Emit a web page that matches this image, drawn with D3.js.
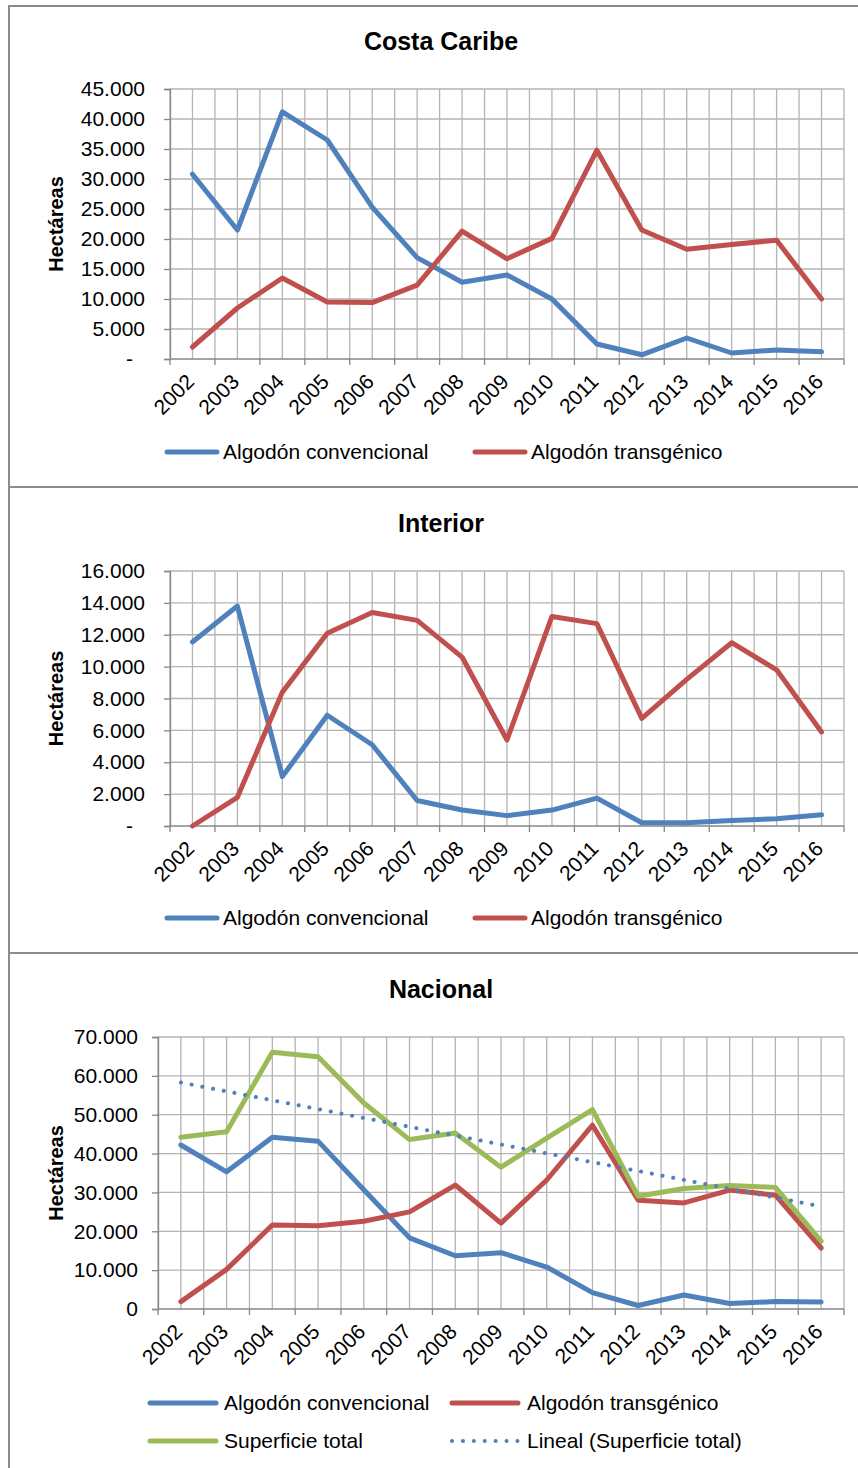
<!DOCTYPE html>
<html>
<head>
<meta charset="utf-8">
<script src="https://cdn.jsdelivr.net/npm/d3@7"></script>
<style>
  html, body { margin: 0; padding: 0; background: #fff; }
  svg { display: block; font-family: "Liberation Sans", Arial, sans-serif; }
</style>
</head>
<body>
<svg id="chart" width="858" height="1468"></svg>
<script>
// Cotton area (hectares) by year and region
const years = ["2002","2003","2004","2005","2006","2007","2008","2009","2010","2011","2012","2013","2014","2015","2016"];

const caribeConvencional = [30800, 21500, 41200, 36500, 25300, 16900, 12800, 14000, 10000, 2500, 700, 3500, 1000, 1500, 1200];
const caribeTransgenico  = [2000, 8500, 13500, 9500, 9400, 12300, 21300, 16700, 20100, 34800, 21500, 18300, 19100, 19800, 10000];

const interiorConvencional = [11550, 13800, 3100, 6950, 5100, 1600, 1000, 650, 1000, 1750, 200, 200, 350, 450, 700];
const interiorTransgenico  = [0, 1800, 8400, 12100, 13400, 12900, 10600, 5400, 13150, 12700, 6750, 9200, 11500, 9800, 5900];

const nacionalConvencional = [42200, 35300, 44200, 43200, 30700, 18300, 13700, 14500, 10800, 4200, 900, 3600, 1400, 1900, 1800];
const nacionalTransgenico  = [1900, 10200, 21600, 21400, 22600, 25000, 31900, 22100, 33200, 47300, 28000, 27300, 30600, 29300, 15700];
const nacionalTotal        = [44200, 45600, 66100, 64900, 53000, 43600, 45300, 36500, 44000, 51300, 29000, 31000, 31800, 31300, 17500];

const ticksCaribe   = [0, 5000, 10000, 15000, 20000, 25000, 30000, 35000, 40000, 45000];
const labelsCaribe  = ["-", "5.000", "10.000", "15.000", "20.000", "25.000", "30.000", "35.000", "40.000", "45.000"];
const ticksInterior  = [0, 2000, 4000, 6000, 8000, 10000, 12000, 14000, 16000];
const labelsInterior = ["-", "2.000", "4.000", "6.000", "8.000", "10.000", "12.000", "14.000", "16.000"];
const ticksNacional  = [0, 10000, 20000, 30000, 40000, 50000, 60000, 70000];
const labelsNacional = ["0", "10.000", "20.000", "30.000", "40.000", "50.000", "60.000", "70.000"];

const COLORS = { conv: "#4F81BD", trans: "#C0504D", total: "#9BBB59", trend: "#4F81BD" };
const FONT = 21;

const svg = d3.select("#chart");

// Ordinary least-squares line through a series (Excel "Lineal" trendline)
function linearFit(values) {
  const n = values.length;
  const xs = d3.range(1, n + 1);
  const mx = d3.mean(xs), my = d3.mean(values);
  let sxy = 0, sxx = 0;
  xs.forEach((x, i) => { sxy += (x - mx) * (values[i] - my); sxx += (x - mx) * (x - mx); });
  const b = sxy / sxx, a = my - b * mx;
  return xs.map(x => a + b * x);
}

function drawPanel(cfg) {
  const g = svg.append("g");

  // panel frame
  g.append("rect")
    .attr("x", cfg.frame[0]).attr("y", cfg.frame[1])
    .attr("width", cfg.frame[2]).attr("height", cfg.frame[3])
    .attr("fill", "#fff").attr("stroke", "#8c8c8c").attr("stroke-width", 2);

  // title
  g.append("text")
    .attr("x", 441).attr("y", cfg.titleY)
    .attr("text-anchor", "middle")
    .attr("font-size", 25).attr("font-weight", "bold")
    .text(cfg.title);

  const x = d3.scaleBand().domain(years).range([cfg.left, cfg.right]).padding(0);
  const y = d3.scaleLinear().domain([0, cfg.ticks[cfg.ticks.length - 1]]).range([cfg.bottom, cfg.top]);
  const half = x.bandwidth() / 2;

  // vertical gridlines at category edges and centers
  const grid = g.append("g").attr("stroke", "#b4b4b4").attr("stroke-width", 1.3);
  const vx = [];
  years.forEach(yr => { vx.push(x(yr)); vx.push(x(yr) + half); });
  vx.push(cfg.right);
  grid.selectAll("line.v").data(vx).join("line")
    .attr("x1", d => d).attr("x2", d => d)
    .attr("y1", cfg.top).attr("y2", cfg.bottom);

  // horizontal gridlines
  grid.selectAll("line.h").data(cfg.ticks.slice(1)).join("line")
    .attr("x1", cfg.left).attr("x2", cfg.right)
    .attr("y1", d => y(d)).attr("y2", d => y(d));

  // y axis
  const labelOf = new Map(cfg.ticks.map((t, i) => [t, cfg.labels[i]]));
  const yAxis = g.append("g")
    .attr("transform", `translate(${cfg.left},0)`)
    .call(d3.axisLeft(y).tickValues(cfg.ticks).tickFormat(d => labelOf.get(d)).tickSize(6).tickPadding(cfg.labelPad));
  yAxis.select(".domain").attr("stroke", "#868686").attr("stroke-width", 1.3);
  yAxis.selectAll(".tick line").attr("stroke", "#868686").attr("stroke-width", 1.3);
  yAxis.selectAll(".tick text")
    .attr("font-size", FONT).attr("fill", "#000")
    .attr("font-family", "\"Liberation Sans\", Arial, sans-serif")
    .attr("dx", d => labelOf.get(d) === "-" ? -12 : 0);

  // x axis: ticks at category edges, labels rotated
  const xAxis = g.append("g").attr("transform", `translate(0,${cfg.bottom})`);
  xAxis.append("line")
    .attr("x1", cfg.left).attr("x2", cfg.right)
    .attr("stroke", "#868686").attr("stroke-width", 1.3);
  xAxis.selectAll("line.t").data(vx.filter((d, i) => i % 2 === 0 || i === vx.length - 1)).join("line")
    .attr("x1", d => d).attr("x2", d => d).attr("y1", 0).attr("y2", 6)
    .attr("stroke", "#868686").attr("stroke-width", 1.3);
  xAxis.selectAll("text").data(years).join("text")
    .attr("transform", d => `translate(${x(d) + half + 3},24) rotate(-45)`)
    .attr("text-anchor", "end")
    .attr("font-size", FONT)
    .text(d => d);

  // axis title
  g.append("text")
    .attr("transform", `translate(63,${(cfg.top + cfg.bottom) / 2}) rotate(-90)`)
    .attr("text-anchor", "middle")
    .attr("font-size", 20).attr("font-weight", "bold")
    .text("Hectáreas");

  // series lines
  const line = d3.line().x((d, i) => x(years[i]) + half).y(d => y(d));
  cfg.series.forEach(s => {
    g.append("path")
      .datum(s.values)
      .attr("d", line)
      .attr("fill", "none")
      .attr("stroke", s.color)
      .attr("stroke-width", s.dotted ? 4 : 5)
      .attr("stroke-linejoin", "round")
      .attr("stroke-linecap", "round")
      .attr("stroke-dasharray", s.dotted ? "0.1 10.8" : null);
  });

  // legend
  cfg.legend.forEach(item => {
    const s = cfg.series[item.idx];
    g.append("line")
      .attr("x1", item.x1).attr("x2", item.x2)
      .attr("y1", item.y).attr("y2", item.y)
      .attr("stroke", s.color)
      .attr("stroke-width", s.dotted ? 4 : 5)
      .attr("stroke-linecap", "round")
      .attr("stroke-dasharray", s.dotted ? "0.1 10.8" : null);
    g.append("text")
      .attr("x", item.tx).attr("y", item.y)
      .attr("dy", "0.35em")
      .attr("font-size", FONT)
      .text(s.name);
  });
}

drawPanel({
  title: "Costa Caribe", titleY: 50,
  frame: [9, 6, 870, 481],
  left: 170, right: 844, top: 89, bottom: 359, labelPad: 19,
  ticks: ticksCaribe, labels: labelsCaribe,
  series: [
    { name: "Algodón convencional", values: caribeConvencional, color: COLORS.conv },
    { name: "Algodón transgénico", values: caribeTransgenico, color: COLORS.trans }
  ],
  legend: [
    { idx: 0, x1: 167, x2: 217, y: 452, tx: 223 },
    { idx: 1, x1: 475, x2: 525, y: 452, tx: 531 }
  ]
});

drawPanel({
  title: "Interior", titleY: 532,
  frame: [9, 487, 870, 466],
  left: 170, right: 844, top: 571, bottom: 826, labelPad: 19,
  ticks: ticksInterior, labels: labelsInterior,
  series: [
    { name: "Algodón convencional", values: interiorConvencional, color: COLORS.conv },
    { name: "Algodón transgénico", values: interiorTransgenico, color: COLORS.trans }
  ],
  legend: [
    { idx: 0, x1: 167, x2: 217, y: 918, tx: 223 },
    { idx: 1, x1: 475, x2: 525, y: 918, tx: 531 }
  ]
});

drawPanel({
  title: "Nacional", titleY: 998,
  frame: [9, 953, 870, 530],
  left: 158, right: 844, top: 1037, bottom: 1309, labelPad: 14,
  ticks: ticksNacional, labels: labelsNacional,
  series: [
    { name: "Algodón convencional", values: nacionalConvencional, color: COLORS.conv },
    { name: "Algodón transgénico", values: nacionalTransgenico, color: COLORS.trans },
    { name: "Superficie total", values: nacionalTotal, color: COLORS.total },
    { name: "Lineal (Superficie total)", values: linearFit(nacionalTotal), color: COLORS.trend, dotted: true }
  ],
  legend: [
    { idx: 0, x1: 150, x2: 216, y: 1403, tx: 224 },
    { idx: 1, x1: 452, x2: 518, y: 1403, tx: 527 },
    { idx: 2, x1: 150, x2: 216, y: 1441, tx: 224 },
    { idx: 3, x1: 452, x2: 518, y: 1441, tx: 527 }
  ]
});
</script>
</body>
</html>
